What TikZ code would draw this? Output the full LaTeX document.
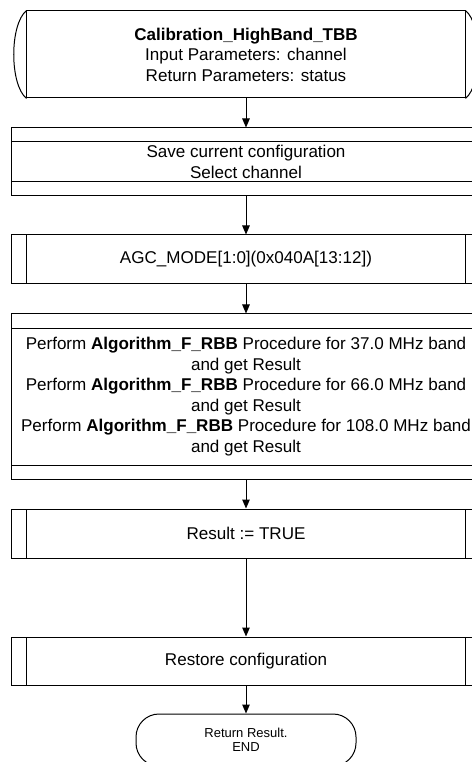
\documentclass[tikz,border=0pt]{standalone}
\usepackage{fontspec}
\setmainfont{Liberation Sans}
\usetikzlibrary{arrows.meta}

\tikzset{
  box/.style={draw,line width=0.2mm,minimum width=93.6mm},
  subproc/.style={box,path picture={
      \draw[line width=0.2mm] ([xshift=3mm]path picture bounding box.north west) -- ([xshift=3mm]path picture bounding box.south west);
      \draw[line width=0.2mm] ([xshift=-3mm]path picture bounding box.north east) -- ([xshift=-3mm]path picture bounding box.south east);}},
  banded/.style={box,path picture={
      \draw[line width=0.2mm] ([yshift=-2.8mm]path picture bounding box.north west) -- ([yshift=-2.8mm]path picture bounding box.north east);
      \draw[line width=0.2mm] ([yshift=2.8mm]path picture bounding box.south west) -- ([yshift=2.8mm]path picture bounding box.south east);}},
  flow/.style={->,line width=0.2mm}
}

\begin{document}
\begin{tikzpicture}[x=0.2mm,y=-0.2mm,>={Triangle[length=1.8mm,width=1.5mm]},
  every node/.style={font=\fontsize{9.7}{11.7}\selectfont,align=center,inner sep=0pt}]
\useasboundingbox (0,0) rectangle (471,762);
% start block
\node[box,minimum width=87.6mm,minimum height=17.4mm] (start) at (246,54.5)
  {\textbf{Calibration\_HighBand\_TBB}\\Input Parameters: channel\\Return Parameters: status};
\draw[line width=0.2mm] (start.north west) .. controls +(-17,14) and +(-17,-14) .. (start.south west);
\draw[line width=0.2mm] (start.north east) .. controls +(17,14) and +(17,-14) .. (start.south east);
% steps
\node[banded,minimum height=13.6mm] (save) at (246,162) {Save current configuration\\Select channel};
\node[subproc,minimum height=9.6mm] (agc) at (246,259) {AGC\_MODE[1:0](0x040A[13:12])};
\node[banded,minimum height=33mm] (perf) at (246,396.5)
  {Perform \textbf{Algorithm\_F\_RBB} Procedure for 37.0 MHz band\\and get Result\\
   Perform \textbf{Algorithm\_F\_RBB} Procedure for 66.0 MHz band\\and get Result\\
   Perform \textbf{Algorithm\_F\_RBB} Procedure for 108.0 MHz band\\and get Result};
\node[subproc,minimum height=9.8mm] (res) at (246,533.5) {Result := TRUE};
\node[subproc,minimum height=9.6mm] (rest) at (246,661) {Restore configuration};
\node[draw,line width=0.2mm,rounded corners=4.6mm,minimum width=44mm,minimum height=10.4mm,
  font=\fontsize{7.4}{8.2}\selectfont] (end) at (246,740) {Return Result.\\END};
% connectors
\draw[flow] (start) -- (save);
\draw[flow] (save) -- (agc);
\draw[flow] (agc) -- (perf);
\draw[flow] (perf) -- (res);
\draw[flow] (res) -- (rest);
\draw[flow] (rest) -- (end);
\end{tikzpicture}
\end{document}
